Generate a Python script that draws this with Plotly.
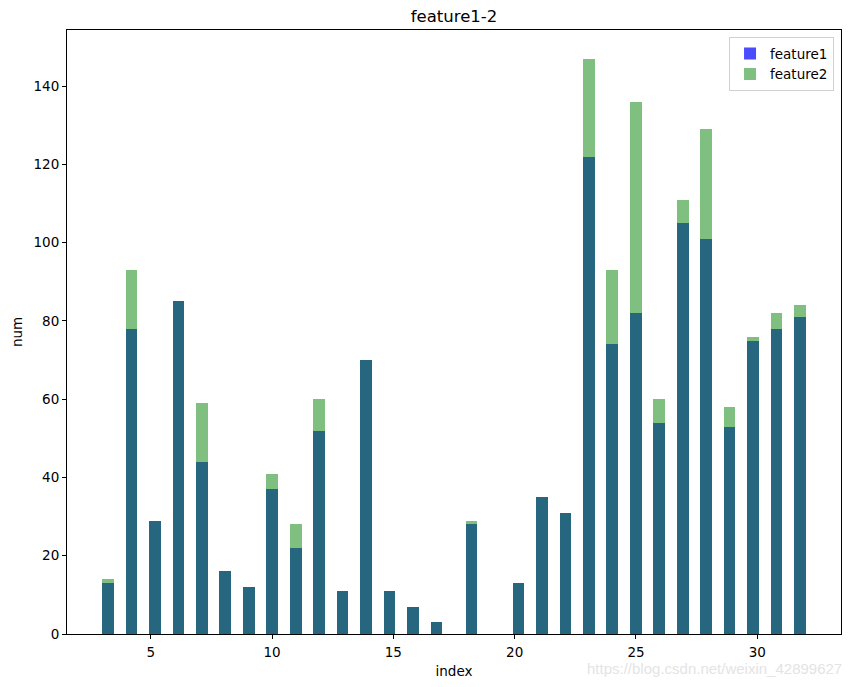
import numpy as np
import plotly.graph_objects as go

index = list(range(3, 33))
feature1 = [13, 78, 29, 85, 44, 16, 12, 37, 22, 52, 11, 70, 11, 7, 3,
            28, 0, 13, 35, 31, 122, 74, 82, 54, 105, 101, 53, 75, 78, 81]
feature2 = [14, 93, 29, 85, 59, 16, 12, 41, 28, 60, 11, 70, 11, 7, 3,
            29, 0, 13, 35, 31, 147, 93, 136, 60, 111, 129, 58, 76, 82, 84]
n_bins = 60

# rebuild the raw samples and bin them like plt.hist(bins=60)
raw1 = np.repeat(index, feature1)
raw2 = np.repeat(index, feature2)
counts1, edges = np.histogram(raw1, bins=n_bins, range=(min(index), max(index)))
counts2, _ = np.histogram(raw2, bins=edges)
centers = (edges[:-1] + edges[1:]) / 2
widths = np.diff(edges)

font = 'DejaVu Sans'

fig = go.Figure()
fig.add_trace(go.Bar(x=centers, y=counts1, width=widths, name='feature1',
                     marker=dict(color='rgba(0,0,255,0.7)', line_width=0)))
fig.add_trace(go.Bar(x=centers, y=counts2, width=widths, name='feature2',
                     marker=dict(color='rgba(0,128,0,0.5)', line_width=0)))

pad = 0.05 * (edges[-1] - edges[0])
ymax = 1.05 * max(counts1.max(), counts2.max())

axis_style = dict(showline=True, mirror=True, linecolor='black', linewidth=1,
                  ticks='outside', ticklen=4, tickwidth=1, tickcolor='black',
                  showgrid=False, zeroline=False,
                  tickfont=dict(family=font, size=13.5, color='black'))

# page body has an 8px margin, so the figure is a bit smaller than the window
fig.update_layout(
    width=838, height=673,
    margin=dict(l=59, r=5, t=22, b=47, pad=0),
    plot_bgcolor='white', paper_bgcolor='white',
    barmode='overlay', bargap=0,
    title=dict(text='feature1-2', x=0.5, xref='paper', xanchor='center',
               y=1 - 8 / 673, yref='container', yanchor='middle',
               font=dict(family=font, size=16.5, color='black')),
    xaxis=dict(axis_style, range=[edges[0] - pad, edges[-1] + pad], dtick=5, ticklabelstandoff=2,
               title=dict(text='index', font=dict(family=font, size=13.5, color='black'), standoff=7)),
    yaxis=dict(axis_style, range=[0, ymax], dtick=20,
               title=dict(text='num', font=dict(family=font, size=13.5, color='black'), standoff=7)),
    legend=dict(x=0.991, y=0.988, xanchor='right', yanchor='top',
                bgcolor='rgba(255,255,255,0.8)', bordercolor='#d0d0d0', borderwidth=1,
                font=dict(family=font, size=13.5, color='black')),
    annotations=[dict(text='https://blog.csdn.net/weixin_42899627', xref='paper', yref='paper',
                      x=1.004, y=-0.057, xanchor='right', yanchor='middle', showarrow=False,
                      font=dict(family='Liberation Sans', size=15, color='rgb(228,228,228)'))],
)

fig.write_html('out.html')
